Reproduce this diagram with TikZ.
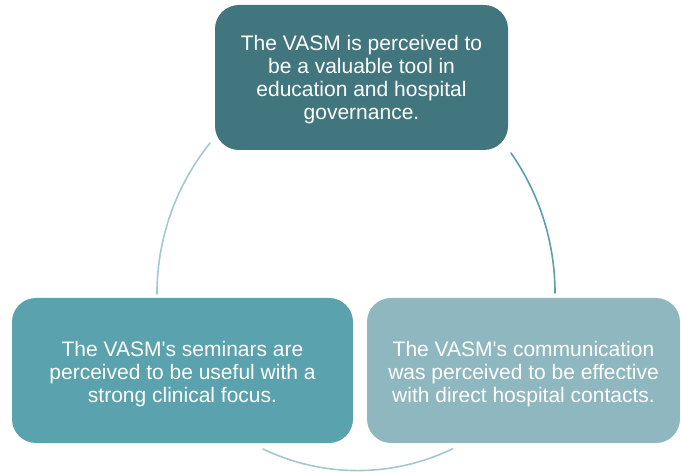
\documentclass[tikz,border=0pt]{standalone}
\usepackage{fontspec}
\setmainfont{Liberation Sans}
\definecolor{topc}{HTML}{41767F}
\definecolor{leftc}{HTML}{5AA2AD}
\definecolor{rightc}{HTML}{8FB7BF}
\definecolor{arclight}{HTML}{A3C8CE}
\definecolor{arcmid}{HTML}{5A9FA9}
\begin{document}
\begin{tikzpicture}[x=1pt,y=1pt,
  box/.style={rounded corners=24pt, inner sep=0pt},
  boxtext/.style={text=white, align=center, inner sep=0pt,
    font=\fontsize{21}{23}\selectfont},
  arcline/.style={line width=1.6pt, line cap=round}]
\useasboundingbox (0,0) rectangle (681,472);
% boxes
\node[box, fill=topc, minimum width=293pt, minimum height=145pt] (top) at (361.5,394.5) {};
\node[box, fill=leftc, minimum width=341pt, minimum height=145pt] (left) at (182.5,101.5) {};
\node[box, fill=rightc, minimum width=313pt, minimum height=145pt] (right) at (523.5,101.5) {};
% texts
\node[boxtext] (toptext) at ([yshift=-2.5pt]top.center)
  {The VASM is perceived to\\be a valuable tool in\\education and hospital\\governance.};
\node[boxtext] (lefttext) at ([yshift=-3.5pt]left.center)
  {The VASM\textquotesingle s seminars are\\perceived to be useful with a\\strong clinical focus.};
\node[boxtext] (righttext) at ([yshift=-3.5pt]right.center)
  {The VASM\textquotesingle s communication\\was perceived to be effective\\with direct hospital contacts.};
% arc start points
\coordinate (a1) at (210,329);
\coordinate (a2) at (511,319);
\coordinate (a3) at (263,23);
\draw[arcline, draw=arclight] (a1) arc[start angle=141.3, end angle=180, radius=241.6];
\draw[arcline, draw=arcmid] (a2) arc[start angle=34.9, end angle=0, radius=244.7];
\draw[arcline, draw=arclight] (a3) arc[start angle=244.3, end angle=295.9, radius=218];
\end{tikzpicture}
\end{document}
